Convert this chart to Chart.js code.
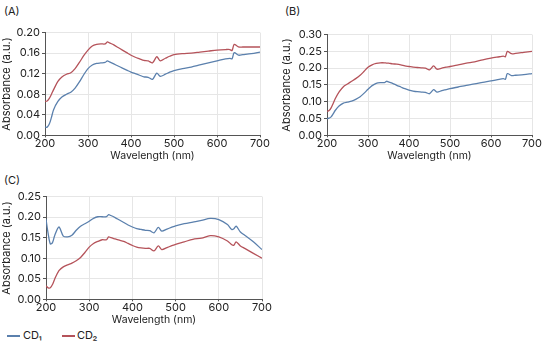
<!DOCTYPE html>
<html>
<head>
<meta charset="utf-8">
<script src="https://cdn.jsdelivr.net/npm/chart.js@4/dist/chart.umd.min.js"></script>
<style>
  body { margin: 0; background: #fff; font-family: Inter, sans-serif; color: #222; }
  #page { position: relative; width: 550px; height: 347px; overflow: hidden; }
  .panel { position: absolute; }
  .tag { position: absolute; font-size: 11px; }
  .legend-item { position: absolute; top: 328px; font-size: 11px; line-height: 14px; }
  .sw { position: absolute; top: 335px; width: 13px; height: 1.5px; }
</style>
</head>
<body>
<div id="page">
  <div class="tag" style="left:4px;top:4px">(A)</div>
  <div class="tag" style="left:285px;top:4px">(B)</div>
  <div class="tag" style="left:4px;top:173px">(C)</div>
  <div class="panel" style="left:0;top:24px;width:270px;height:138px"><canvas id="chartA"></canvas></div>
  <div class="panel" style="left:280px;top:26px;width:262px;height:136px"><canvas id="chartB"></canvas></div>
  <div class="panel" style="left:0;top:188px;width:272px;height:138px"><canvas id="chartC"></canvas></div>
  <div class="sw" style="left:7px;background:#5b80ad"></div>
  <div class="legend-item" style="left:23px">CD₁</div>
  <div class="sw" style="left:62px;background:#b5535a"></div>
  <div class="legend-item" style="left:77px">CD₂</div>
</div>
<script>
const wavelengths = [200,205,210,215,220,230,240,250,260,270,280,290,300,310,320,330,340,345,350,360,370,380,390,400,410,420,430,440,450,460,468,480,490,500,520,540,560,580,600,620,630,635,640,650,660,680,700];

const aCD1 = [0.016,0.016,0.022,0.035,0.050,0.066,0.075,0.080,0.084,0.092,0.104,0.118,0.130,0.137,0.140,0.141,0.142,0.145,0.143,0.139,0.135,0.131,0.127,0.123,0.120,0.117,0.114,0.113,0.109,0.121,0.115,0.119,0.123,0.126,0.130,0.133,0.137,0.141,0.145,0.149,0.150,0.149,0.161,0.156,0.157,0.159,0.162];
const aCD2 = [0.066,0.067,0.072,0.080,0.089,0.105,0.114,0.119,0.122,0.130,0.142,0.155,0.166,0.174,0.177,0.178,0.178,0.182,0.180,0.176,0.171,0.166,0.161,0.156,0.152,0.149,0.146,0.145,0.141,0.153,0.145,0.150,0.154,0.157,0.159,0.160,0.162,0.164,0.166,0.167,0.167,0.165,0.177,0.172,0.172,0.172,0.172];

const bCD1 = [0.050,0.051,0.055,0.064,0.074,0.088,0.096,0.099,0.102,0.107,0.114,0.125,0.137,0.148,0.155,0.157,0.157,0.161,0.159,0.155,0.149,0.144,0.139,0.135,0.132,0.130,0.129,0.128,0.124,0.136,0.129,0.133,0.136,0.139,0.144,0.149,0.153,0.158,0.162,0.167,0.169,0.167,0.184,0.178,0.179,0.181,0.184];
const bCD2 = [0.071,0.074,0.082,0.095,0.109,0.130,0.145,0.153,0.161,0.169,0.178,0.190,0.203,0.210,0.214,0.216,0.216,0.215,0.215,0.213,0.212,0.210,0.207,0.205,0.203,0.202,0.201,0.200,0.195,0.207,0.197,0.200,0.203,0.205,0.210,0.215,0.219,0.225,0.230,0.234,0.236,0.234,0.250,0.243,0.244,0.247,0.250];

const cCD1 = [0.195,0.160,0.135,0.138,0.155,0.176,0.154,0.152,0.156,0.168,0.178,0.184,0.190,0.197,0.201,0.201,0.201,0.206,0.204,0.199,0.193,0.187,0.181,0.176,0.172,0.170,0.168,0.167,0.162,0.175,0.166,0.171,0.175,0.179,0.184,0.188,0.192,0.197,0.194,0.182,0.170,0.172,0.178,0.164,0.156,0.140,0.121];
const cCD2 = [0.033,0.028,0.028,0.036,0.049,0.070,0.079,0.084,0.088,0.094,0.102,0.114,0.127,0.136,0.141,0.145,0.145,0.152,0.150,0.147,0.144,0.141,0.136,0.131,0.127,0.125,0.124,0.124,0.118,0.130,0.121,0.126,0.130,0.134,0.140,0.146,0.149,0.155,0.152,0.142,0.133,0.132,0.140,0.130,0.124,0.112,0.100];

const xTicks = [200, 300, 400, 500, 600, 700];
const blue = '#5b80ad';
const red = '#b5535a';

Chart.defaults.font.family = 'Inter, sans-serif';
Chart.defaults.color = '#222';

function points(ys) {
    return wavelengths.map((w, i) => ({ x: w, y: ys[i] }));
}

function makeChart(id, s1, s2, yMax, yStep, yWidth) {
    const ctx = document.getElementById(id).getContext('2d');
    return new Chart(ctx, {
        type: 'line',
        data: {
            datasets: [
                { label: 'CD1', data: points(s1), borderColor: blue, borderWidth: 1.3, pointRadius: 0, tension: 0.3 },
                { label: 'CD2', data: points(s2), borderColor: red, borderWidth: 1.3, pointRadius: 0, tension: 0.3 }
            ]
        },
        options: {
            responsive: true,
            maintainAspectRatio: false,
            animation: false,
            layout: { padding: { right: 10, top: 0 } },
            plugins: { legend: { display: false }, tooltip: { enabled: false } },
            scales: {
                x: {
                    type: 'linear',
                    min: 200, max: 700,
                    afterBuildTicks: axis => { axis.ticks = xTicks.map(v => ({ value: v })); },
                    grid: { color: '#e6e6e6', tickColor: '#555', tickLength: 2 },
                    border: { color: '#555' },
                    ticks: { font: { size: 11, lineHeight: 1.1 }, padding: 0, maxRotation: 0 },
                    title: { display: true, text: 'Wavelength (nm)', font: { size: 10.5, lineHeight: 1.1 }, padding: { top: 1, bottom: 0 } }
                },
                y: {
                    min: 0, max: yMax,
                    grid: { color: '#e6e6e6', tickColor: '#555', tickLength: 3 },
                    border: { color: '#555' },
                    ticks: { stepSize: yStep, font: { size: 11 }, padding: 2, callback: v => v.toFixed(2) },
                    title: { display: true, text: 'Absorbance (a.u.)', font: { size: 11 }, padding: { top: 0, bottom: 2 } },
                    afterFit: axis => { axis.width = yWidth; }
                }
            }
        }
    });
}

makeChart('chartA', aCD1, aCD2, 0.20, 0.04, 45);
makeChart('chartB', bCD1, bCD2, 0.30, 0.05, 47);
makeChart('chartC', cCD1, cCD2, 0.25, 0.05, 46);
</script>
</body>
</html>
